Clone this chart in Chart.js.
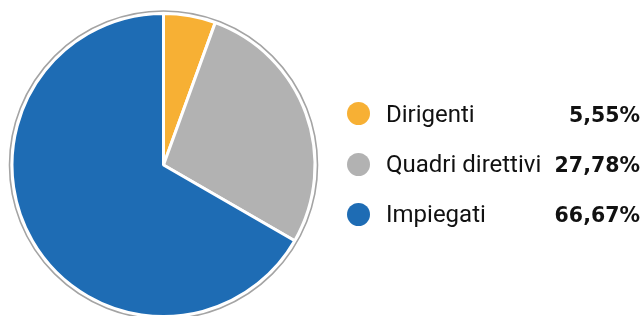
<!DOCTYPE html>
<html>
<head>
<meta charset="utf-8">
<script src="https://cdn.jsdelivr.net/npm/chart.js@4.4.1/dist/chart.umd.min.js"></script>
<style>
  html, body { margin: 0; padding: 0; background: #fff; }
  #wrap { position: relative; width: 644px; height: 316px; overflow: hidden; }
  #pie { position: absolute; left: 0; top: 0; }
  .dot { position: absolute; width: 23px; height: 23px; border-radius: 50%; }
  .row { position: absolute; left: 386px; width: 254px; display: flex; align-items: baseline; line-height: 24px; }
  .lab { font-family: Roboto, sans-serif; font-size: 24px; color: #111; }
  .val { margin-left: auto; font-family: "DejaVu Sans", sans-serif; font-weight: bold; font-size: 20.5px; color: #111; }
</style>
</head>
<body>
<div id="wrap">
  <canvas id="pie" width="644" height="316"></canvas>
  <div id="legend"></div>
</div>
<script>
const categories = ['Dirigenti', 'Quadri direttivi', 'Impiegati'];
const shares = [5.55, 27.78, 66.67];
const shareLabels = ['5,55%', '27,78%', '66,67%'];
const colors = ['#F7B034', '#B2B2B2', '#1E6CB4'];

// anello grigio esterno
const outerRing = {
    id: 'outerRing',
    afterDatasetsDraw(chart) {
        const arc = chart.getDatasetMeta(0).data[0];
        if (!arc) return;
        const ctx = chart.ctx;
        ctx.save();
        ctx.beginPath();
        ctx.arc(arc.x, arc.y, arc.outerRadius + 2.5, 0, Math.PI * 2);
        ctx.strokeStyle = '#a4a4a4';
        ctx.lineWidth = 1.6;
        ctx.stroke();
        ctx.restore();
    }
};

new Chart(document.getElementById('pie'), {
    type: 'pie',
    data: {
        labels: categories,
        datasets: [{
            data: shares,
            backgroundColor: colors,
            borderColor: '#ffffff',
            borderWidth: 3,
            radius: 151.5
        }]
    },
    options: {
        responsive: false,
        animation: false,
        layout: { padding: { left: 13, right: 330, top: 14, bottom: 0 } },
        plugins: {
            legend: { display: false },
            tooltip: { enabled: false }
        }
    },
    plugins: [outerRing]
});

// legenda in HTML
const legend = document.getElementById('legend');
const dotCenters = [113, 164, 214];
const baselines = [122, 172, 222];
categories.forEach((name, i) => {
    const dot = document.createElement('div');
    dot.className = 'dot';
    dot.style.background = colors[i];
    dot.style.left = (358 - 11.5) + 'px';
    dot.style.top = (dotCenters[i] - 11.5) + 'px';
    legend.appendChild(dot);

    const row = document.createElement('div');
    row.className = 'row';
    row.style.top = (baselines[i] - 20) + 'px';
    row.innerHTML = '<span class="lab">' + name + '</span><span class="val">' + shareLabels[i] + '</span>';
    legend.appendChild(row);
});
</script>
</body>
</html>
